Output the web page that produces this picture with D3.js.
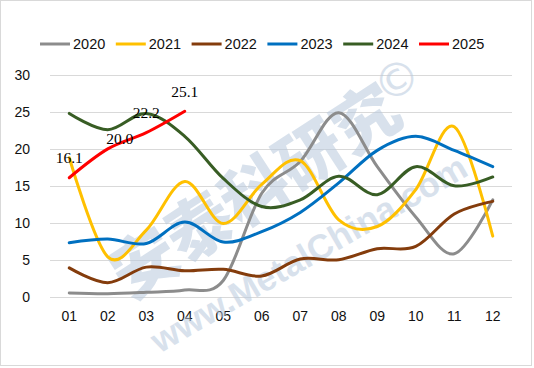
<!DOCTYPE html>
<html><head><meta charset="utf-8">
<script src="https://cdn.jsdelivr.net/npm/d3@7"></script>
<style>html,body{margin:0;padding:0;background:#fff;}svg{display:block;}</style>
</head><body>
<svg id="c" width="534" height="368"></svg>
<script>
const months = ["01","02","03","04","05","06","07","08","09","10","11","12"];
const seriesNames = ["2020","2021","2022","2023","2024","2025"];
const v2020 = [0.5,0.4,0.6,0.9,2.2,14.0,18.3,24.9,17.6,10.8,5.8,13.1];
const v2021 = [18.8,5.4,9.0,15.6,9.9,15.2,18.4,10.4,9.5,14.5,23.0,8.2];
const v2022 = [3.9,1.9,4.0,3.5,3.7,2.8,5.1,5.0,6.5,6.8,11.2,12.9];
const v2023 = [7.3,7.8,7.2,10.1,7.4,8.8,11.4,15.4,19.8,21.7,19.8,17.6];
const v2024 = [24.8,22.6,24.8,21.7,16.0,12.2,13.1,16.3,13.8,17.6,15.0,16.2];
const v2025 = [16.1,20.0,22.2,25.1];
const yTicks = [0,5,10,15,20,25,30];

const colors = ["#8c8c8c","#ffc000","#843c0c","#0070c0","#385d24","#ff0000"];
const allValues = [v2020,v2021,v2022,v2023,v2024,v2025];

const svg = d3.select("#c");
svg.append("rect").attr("x",0.5).attr("y",0.5).attr("width",531).attr("height",365)
  .attr("fill","#fff").attr("stroke","#d9d9d9");

const x = d3.scaleBand().domain(months).range([50,512]);
const y = d3.scaleLinear().domain([0,30]).range([296.7,75]);
const cx = m => x(m) + x.bandwidth()/2;

svg.append("g").selectAll("line").data(yTicks).join("line")
  .attr("x1",50).attr("x2",512)
  .attr("y1",d=>Math.round(y(d))+0.5).attr("y2",d=>Math.round(y(d))+0.5)
  .attr("stroke","#d9d9d9").attr("stroke-width",1);

const yAxis = d3.axisLeft(y).tickValues(yTicks).tickSize(0).tickPadding(0).tickFormat(d3.format("d"));
const gy = svg.append("g").attr("transform","translate(30,0)").call(yAxis);
gy.select(".domain").remove();
gy.selectAll("text").attr("font-family","Liberation Sans, Arial, sans-serif").attr("font-size",14).attr("fill","#111");

const xAxis = d3.axisBottom(x).tickSize(0).tickPadding(0);
const gx = svg.append("g").attr("transform","translate(0,311)").call(xAxis);
gx.select(".domain").remove();
gx.selectAll("text").attr("font-family","Liberation Sans, Arial, sans-serif").attr("font-size",14).attr("fill","#111");

// watermark
const wm = svg.append("g").attr("fill","#b9cadd").attr("opacity",0.55);
wm.append("text").attr("transform","translate(258,196) rotate(-33)")
  .attr("text-anchor","middle").attr("dominant-baseline","middle")
  .attr("font-family","Noto Sans CJK SC").attr("font-weight",900).attr("font-size",66)
  .text("安泰科研究");
wm.append("text").attr("transform","translate(310,256) rotate(-30)")
  .attr("text-anchor","middle").attr("dominant-baseline","middle")
  .attr("font-family","Liberation Sans, Arial, sans-serif").attr("font-weight",700).attr("font-size",35)
  .text("www.MetalChina.com");
wm.append("text").attr("transform","translate(397,80) rotate(-30)")
  .attr("text-anchor","middle").attr("dominant-baseline","central")
  .attr("font-family","DejaVu Sans").attr("font-size",46)
  .text("©");

const line = d3.line().x((d,i)=>cx(months[i])).y(d=>y(d)).curve(d3.curveCardinal.tension(0));
svg.append("g").selectAll("path").data(allValues).join("path")
  .attr("d",d=>line(d)).attr("fill","none")
  .attr("stroke",(d,i)=>colors[i]).attr("stroke-width",3)
  .attr("stroke-linecap","round").attr("stroke-linejoin","round");

const labelNudge = [[0,-14.5],[12,-5],[0,-15],[0,-14]];
svg.append("g").selectAll("text").data(v2025).join("text")
  .attr("x",(d,i)=>cx(months[i])+labelNudge[i][0])
  .attr("y",(d,i)=>y(d)+labelNudge[i][1])
  .attr("text-anchor","middle")
  .attr("font-family","Liberation Serif, Times New Roman, serif").attr("font-size",15.5)
  .attr("fill","#000").text(d=>d3.format(".1f")(d));

const lg = svg.append("g").selectAll("g").data(seriesNames).join("g")
  .attr("transform",(d,i)=>`translate(${40+i*75.8},44)`);
lg.append("line").attr("x1",0).attr("x2",30).attr("y1",0).attr("y2",0)
  .attr("stroke",(d,i)=>colors[i]).attr("stroke-width",3);
lg.append("text").attr("x",33).attr("y",0).attr("dominant-baseline","central")
  .attr("font-family","Liberation Sans, Arial, sans-serif").attr("font-size",14.5)
  .attr("fill","#111").text(d=>d);
</script>
</body></html>
